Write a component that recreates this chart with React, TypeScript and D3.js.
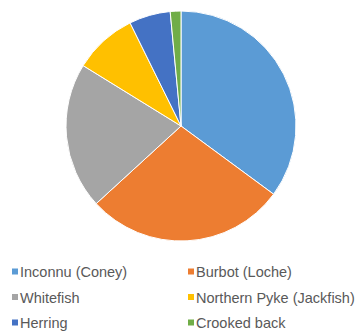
import React from "react";
import * as d3 from "d3";

const categories = [
  "Inconnu (Coney)",
  "Burbot (Loche)",
  "Whitefish",
  "Northern Pyke (Jackfish)",
  "Herring",
  "Crooked back",
];
const values = [35.1, 28.1, 20.6, 8.9, 5.8, 1.5];
const colors = ["#5B9BD5", "#ED7D31", "#A5A5A5", "#FFC000", "#4472C4", "#70AD47"];

export default function App() {
  const W = 358;
  const H = 333;
  const cx = 181;
  const cy = 126;
  const r = 115;
  const pie = d3.pie<number>().sort(null).value((d) => d)(values);
  const arc = d3.arc<d3.PieArcDatum<number>>().innerRadius(0).outerRadius(r);
  const legendX = [12, 188];
  const legendY = [272, 297.5, 323];
  return (
    <svg
      width={W}
      height={H}
      style={{ position: "absolute", left: 0, top: 0, background: "#fff" }}
      fontFamily="'Liberation Sans', Arial, sans-serif"
    >
      <g transform={`translate(${cx},${cy})`}>
        {pie.map((p, i) => (
          <path key={i} d={arc(p) || ""} fill={colors[i]} stroke="#fff" strokeWidth={1} />
        ))}
      </g>
      {categories.map((c, i) => {
        const col = i % 2;
        const row = Math.floor(i / 2);
        const x = legendX[col];
        const y = legendY[row];
        return (
          <g key={c}>
            <rect x={x} y={y - 3.5} width={6} height={6} fill={colors[i]} />
            <text x={x + 8} y={y} dy="0.35em" fontSize={14.5} fill="#595959">
              {c}
            </text>
          </g>
        );
      })}
    </svg>
  );
}
